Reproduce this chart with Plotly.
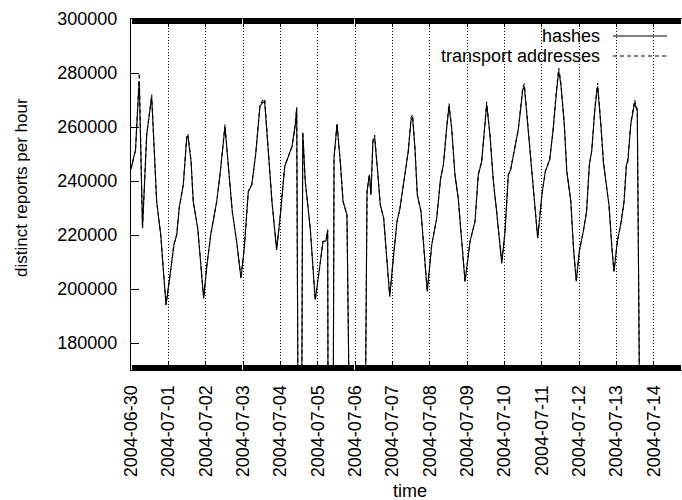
import pandas as pd
import plotly.graph_objects as go

# hours since 2004-06-30 00:00 (vertices)
hours = [0, 2.9, 4.7, 5.3, 7.4, 10.1, 13.3, 16.5, 19.1, 22.5,
         25.1, 27.6, 29.4, 31.0, 33.6, 35.8, 36.6, 38.6, 40.0, 42.9, 46.7,
         48.8, 51.4, 52.9, 55.1, 57.2, 59.8, 60.4, 62.5, 65.1, 67.9, 70.7,
         72.8, 75.4, 77.6, 80.1, 82.9, 84.5, 85.9, 88.1, 90.6, 93.6,
         96.0, 98.8, 101.4, 103.5, 105.6, 106.5, 107.6, 109.5, 110.4, 112.0, 115.2, 118.4,
         120.6, 123.4, 125.3, 126.4, 126.8, 129.8, 130.5, 132.4, 134.5, 136.3, 138.8, 141.0, 150.2, 151.7,
         153.2, 154.2, 155.5, 156.6, 158.7, 160.2, 162.4, 166.3,
         168.8, 171.0, 172.9, 176.2, 178.2, 180.0, 181.0, 182.5, 184.0, 186.4, 188.3, 190.4,
         193.3, 196.5, 199.0, 200.8, 202.9, 204.4, 206.1, 208.2, 210.3, 212.5, 214.7,
         217.9, 221.1, 223.2, 225.4, 227.5, 228.6, 230.7, 232.9, 235.0, 236.7, 238.3,
         240.4, 242.5, 244.0, 246.8, 248.9, 250.5, 251.8, 252.8, 255.0, 257.1, 259.2, 261.4,
         264.1, 266.3, 269.1, 271.2, 273.3, 274.9, 275.7, 276.3, 278.5, 280.1, 282.7, 284.4, 286.2,
         288.1, 290.7, 292.8, 294.6, 296.1, 298.2, 299.9, 302.0, 303.6, 305.2, 307.2, 309.1, 310.4,
         312.6, 315.1, 316.9, 318.4, 319.4, 321.2, 323.7, 325.4, 327.4]

hashes = [244500, 251500, 271400, 277000, 222500, 257200, 271000, 232400, 220100, 194100,
          205200, 216400, 220100, 230100, 238600, 255900, 256500, 247300, 232400, 222500, 196600,
          208900, 220700, 225000, 232400, 242300, 259000, 260000, 246000, 228700, 217600, 204000,
          215100, 236100, 238600, 249700, 267700, 269000, 269500, 252200, 232400, 214500,
          227500, 245400, 249700, 252800, 260900, 266800, 120000, 120000, 257800, 239800, 222500, 196000,
          205200, 217600, 217800, 221900, 120000, 120000, 248500, 260900, 247300, 232400, 227500, 120000, 120000, 236100,
          242300, 234900, 254700, 256000, 242300, 231200, 226300, 197200,
          212700, 225100, 230000, 243600, 251000, 262700, 263500, 252200, 234900, 228700, 215100, 199100,
          216400, 226300, 241100, 246000, 259600, 267700, 259600, 242300, 233700, 217600, 202800,
          217600, 225000, 242300, 247300, 260900, 268300, 257200, 239800, 228700, 217600, 209600,
          221300, 242300, 244200, 252200, 259000, 267000, 273900, 275100, 260900, 246000, 232400, 218800,
          234900, 243600, 247900, 258400, 272000, 280600, 278000, 275700, 260900, 243600, 232400, 215100, 202800,
          213900, 221300, 228700, 246000, 251000, 267000, 275100, 260900, 247300, 239800, 231200, 215100, 206500,
          217600, 225100, 232400, 246000, 247300, 260900, 268900, 265800, 120000]

transport = [244500, 251500, 272000, 280000, 222500, 257200, 272000, 232400, 220100, 194100,
             205200, 216400, 220100, 230100, 238600, 256500, 257500, 247300, 232400, 222500, 196600,
             208900, 220700, 225000, 232400, 242300, 259800, 261000, 246000, 228700, 217600, 204000,
             215100, 236100, 238600, 249700, 268200, 269800, 270500, 252200, 232400, 214500,
             227500, 245400, 249700, 252800, 261200, 267300, 120000, 120000, 258300, 239800, 222500, 196000,
             205200, 217600, 217800, 221900, 120000, 120000, 248500, 261500, 247300, 232400, 227500, 120000, 120000, 236100,
             242300, 234900, 255200, 257000, 242300, 231200, 226300, 197200,
             212700, 225100, 230000, 243600, 251000, 263500, 264500, 252200, 234900, 228700, 215100, 199100,
             216400, 226300, 241100, 246000, 260000, 268700, 259600, 242300, 233700, 217600, 202800,
             217600, 225000, 242300, 247300, 261300, 269300, 257200, 239800, 228700, 217600, 209600,
             221300, 242300, 244200, 252200, 259000, 267600, 274800, 276000, 260900, 246000, 232400, 218800,
             234900, 243600, 247900, 258400, 272800, 281800, 279000, 276300, 260900, 243600, 232400, 215100, 202800,
             213900, 221300, 228700, 246000, 251000, 267600, 276300, 260900, 247300, 239800, 231200, 215100, 206500,
             217600, 225100, 232400, 246000, 248300, 261500, 270000, 266500, 120000]

y_ticks = [180000, 200000, 220000, 240000, 260000, 280000, 300000]
series_names = ["hashes", "transport addresses"]

start = pd.Timestamp("2004-06-30 00:00")
times = [start + pd.Timedelta(hours=h) for h in hours]
x_end = start + pd.Timedelta(days=14.756)

FONT = "Liberation Sans, Arial, Helvetica, sans-serif"
W, H = 682, 500
L, R, T, B = 131, 0, 19, 130
PW, PH = W - L - R, H - T - B


def px(x):
    return (x - L) / PW


def py(y):
    return (H - B - y) / PH


fig = go.Figure()
fig.add_trace(go.Scatter(x=times, y=transport, mode="lines", name=series_names[1],
                         line=dict(color="black", width=1.1, dash="4px,3px"), showlegend=False))
fig.add_trace(go.Scatter(x=times, y=hashes, mode="lines", name=series_names[0],
                         line=dict(color="black", width=1.1), showlegend=False))

shapes = []
# white key box hiding grid lines
shapes.append(dict(type="rect", xref="paper", yref="paper", x0=px(386), x1=px(683), y0=py(63), y1=py(23),
                   fillcolor="white", line=dict(width=0), layer="between"))
# key samples
shapes.append(dict(type="line", xref="paper", yref="paper", x0=px(613), x1=px(667), y0=py(36), y1=py(36),
                   line=dict(color="black", width=1.1)))
shapes.append(dict(type="line", xref="paper", yref="paper", x0=px(613), x1=px(667), y0=py(56), y1=py(56),
                   line=dict(color="black", width=1.1, dash="4px,3px")))

annotations = [
    dict(text=series_names[0], xref="paper", yref="paper", x=px(602), y=py(36), xanchor="right", yanchor="middle",
         showarrow=False, font=dict(family=FONT, size=18, color="black")),
    dict(text=series_names[1], xref="paper", yref="paper", x=px(602), y=py(56), xanchor="right", yanchor="middle",
         showarrow=False, font=dict(family=FONT, size=18, color="black")),
    dict(text="distinct reports per hour", xref="paper", yref="paper", x=px(21), y=py(188), textangle=-90,
         xanchor="center", yanchor="middle", showarrow=False, font=dict(family=FONT, size=17, color="black")),
    dict(text="time", xref="paper", yref="paper", x=px(410), y=py(491), xanchor="center", yanchor="middle",
         showarrow=False, font=dict(family=FONT, size=18, color="black")),
]

fig.update_layout(
    width=W, height=H, margin=dict(l=L, r=R, t=T, b=B, pad=0),
    paper_bgcolor="white", plot_bgcolor="white",
    font=dict(family=FONT, size=18, color="black"),
    shapes=shapes, annotations=annotations, showlegend=False,
    xaxis=dict(type="date", range=[start, x_end], tickformat="%Y-%m-%d", dtick=86400000, tick0="2004-06-30",
               tickangle=-90, ticks="inside", ticklen=8, tickwidth=1, tickcolor="black",
               showline=True, linecolor="black", linewidth=1, mirror="ticks",
               showgrid=True, gridcolor="black", griddash="1px,2px", gridwidth=1,
               minor=dict(dtick=3600000, tick0="2004-06-30", ticks="inside", ticklen=5, tickwidth=1.6,
                          tickcolor="black", showgrid=False),
               ticklabelstandoff=7, zeroline=False, tickfont=dict(size=18)),
    yaxis=dict(range=[170000, 300000], tickvals=y_ticks, ticktext=[str(v) for v in y_ticks],
               ticks="inside", ticklen=8, tickwidth=1, tickcolor="black",
               showline=True, linecolor="black", linewidth=1, mirror=False,
               showgrid=False, zeroline=False, ticklabelstandoff=9, tickfont=dict(size=18)),
)

fig.write_html("out.html")
